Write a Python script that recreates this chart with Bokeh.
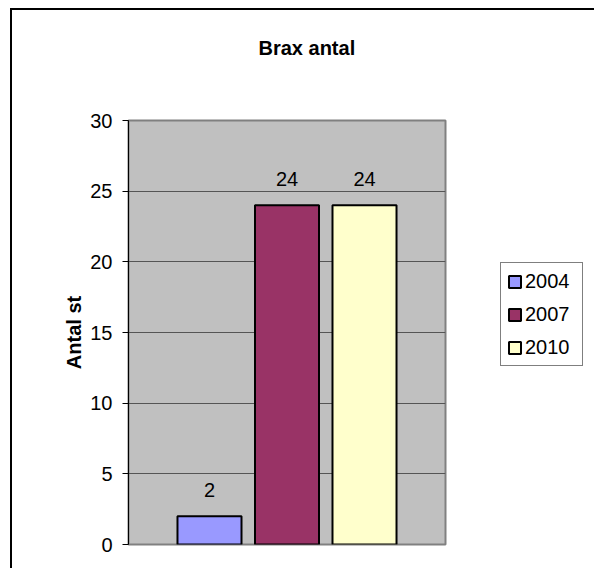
from bokeh.plotting import figure
from bokeh.models import (Range1d, Legend, LegendItem, ColumnDataSource, FixedTicker, Title)
from bokeh.layouts import row
from bokeh.embed import file_html
from bokeh.resources import INLINE
from bokeh.core.properties import value

title = "Brax antal"
y_label = "Antal st"
series = ["2004", "2007", "2010"]
values = [2, 24, 24]
colors = ["#9999FF", "#993366", "#FFFFCC"]
y_ticks = [0, 5, 10, 15, 20, 25, 30]

FONT = "Liberation Sans"
OX, OY = 12, 10            # canvas origin on the page (after the border)
SPLIT = 490                # page x where the legend figure starts
W, H = SPLIT - OX, 570 - OY
W2 = 596 - SPLIT

p = figure(width=W, height=H, output_backend="svg", toolbar_location=None,
           x_range=Range1d(-1.045, 3.045), y_range=Range1d(0, 30),
           min_border_left=128 - OX, min_border_right=W - (445 - OX),
           min_border_top=120 - OY, min_border_bottom=H - (544 - OY))
p.styles = {"margin-left": "10px", "margin-top": "8px",
            "border-left": "2px solid black", "border-top": "2px solid black"}

# title: an empty spacer panel next to the frame, the real title above it
p.title.text = ""
spacer = Title(text=" ", text_font=FONT, text_font_size="20px", standoff=38)
p.add_layout(spacer, "above")
main_title = Title(text=title, text_font=FONT, text_font_size="20px",
                   text_font_style="bold", text_color="black",
                   align="left", offset=130, standoff=0)
p.add_layout(main_title, "above")

p.background_fill_color = "#C0C0C0"
p.border_fill_color = "white"
p.outline_line_color = "#808080"
p.outline_line_width = 2

p.xaxis.visible = False
p.xgrid.visible = False
p.ygrid.grid_line_color = "#555555"
p.ygrid.grid_line_width = 1

ax = p.yaxis[0]
ax.ticker = FixedTicker(ticks=y_ticks)
ax.axis_line_color = "black"
ax.axis_line_width = 1
ax.major_tick_line_color = "black"
ax.major_tick_in = 0
ax.major_tick_out = 6
ax.minor_tick_line_color = None
ax.major_label_standoff = 10
ax.major_label_text_font = FONT
ax.major_label_text_font_size = "20px"
ax.major_label_text_color = "black"
ax.axis_label = y_label
ax.axis_label_text_font = FONT
ax.axis_label_text_font_size = "20px"
ax.axis_label_text_font_style = "bold"
ax.axis_label_text_color = "black"
ax.axis_label_standoff = 2

xs = list(range(len(series)))
src = ColumnDataSource(dict(x=xs, top=values, color=colors,
                            label=[str(v) for v in values], name=series))

bars = p.vbar(x="x", top="top", width=0.826, source=src, fill_color="color",
              line_color="black", line_width=2)

p.text(x="x", y="top", text="label", source=src, text_align="center",
       text_baseline="alphabetic", y_offset=-26,
       text_font=value(FONT), text_font_size="20px", text_color="black")

# legend lives in a small companion figure to the right; its bar renderer is
# hidden and only lends its style to the legend swatches
p2 = figure(width=W2, height=H, output_backend="svg", toolbar_location=None,
            x_range=Range1d(-1000, -999), y_range=Range1d(-1000, -999),
            x_axis_type=None, y_axis_type=None,
            min_border_left=0, min_border_right=0, min_border_top=0,
            min_border_bottom=0)
p2.styles = {"margin-top": "8px", "border-top": "2px solid black"}
p2.grid.visible = False
p2.outline_line_color = None
p2.background_fill_color = "white"
p2.border_fill_color = "white"
bars2 = p2.vbar(x="x", top="top", width=0.826, source=src, fill_color="color",
                line_color="black", line_width=2)
bars2.visible = False

items = [LegendItem(label=s, renderers=[bars2], index=i) for i, s in enumerate(series)]
legend = Legend(items=items, location=(502 - SPLIT, 544 - 366))
legend.background_fill_color = "white"
legend.background_fill_alpha = 1
legend.border_line_color = "black"
legend.border_line_width = 1
legend.label_text_font = FONT
legend.label_text_font_size = "20px"
legend.label_text_color = "black"
legend.glyph_width = 15
legend.glyph_height = 15
legend.label_standoff = 3
legend.spacing = 9
legend.padding = 6
legend.label_height = 24
legend.label_width = 51
legend.margin = 0
legend.inactive_fill_alpha = 0
p2.add_layout(legend, "center")

layout = row(p, p2, spacing=0)
open("out.html", "w").write(file_html(layout, INLINE))
